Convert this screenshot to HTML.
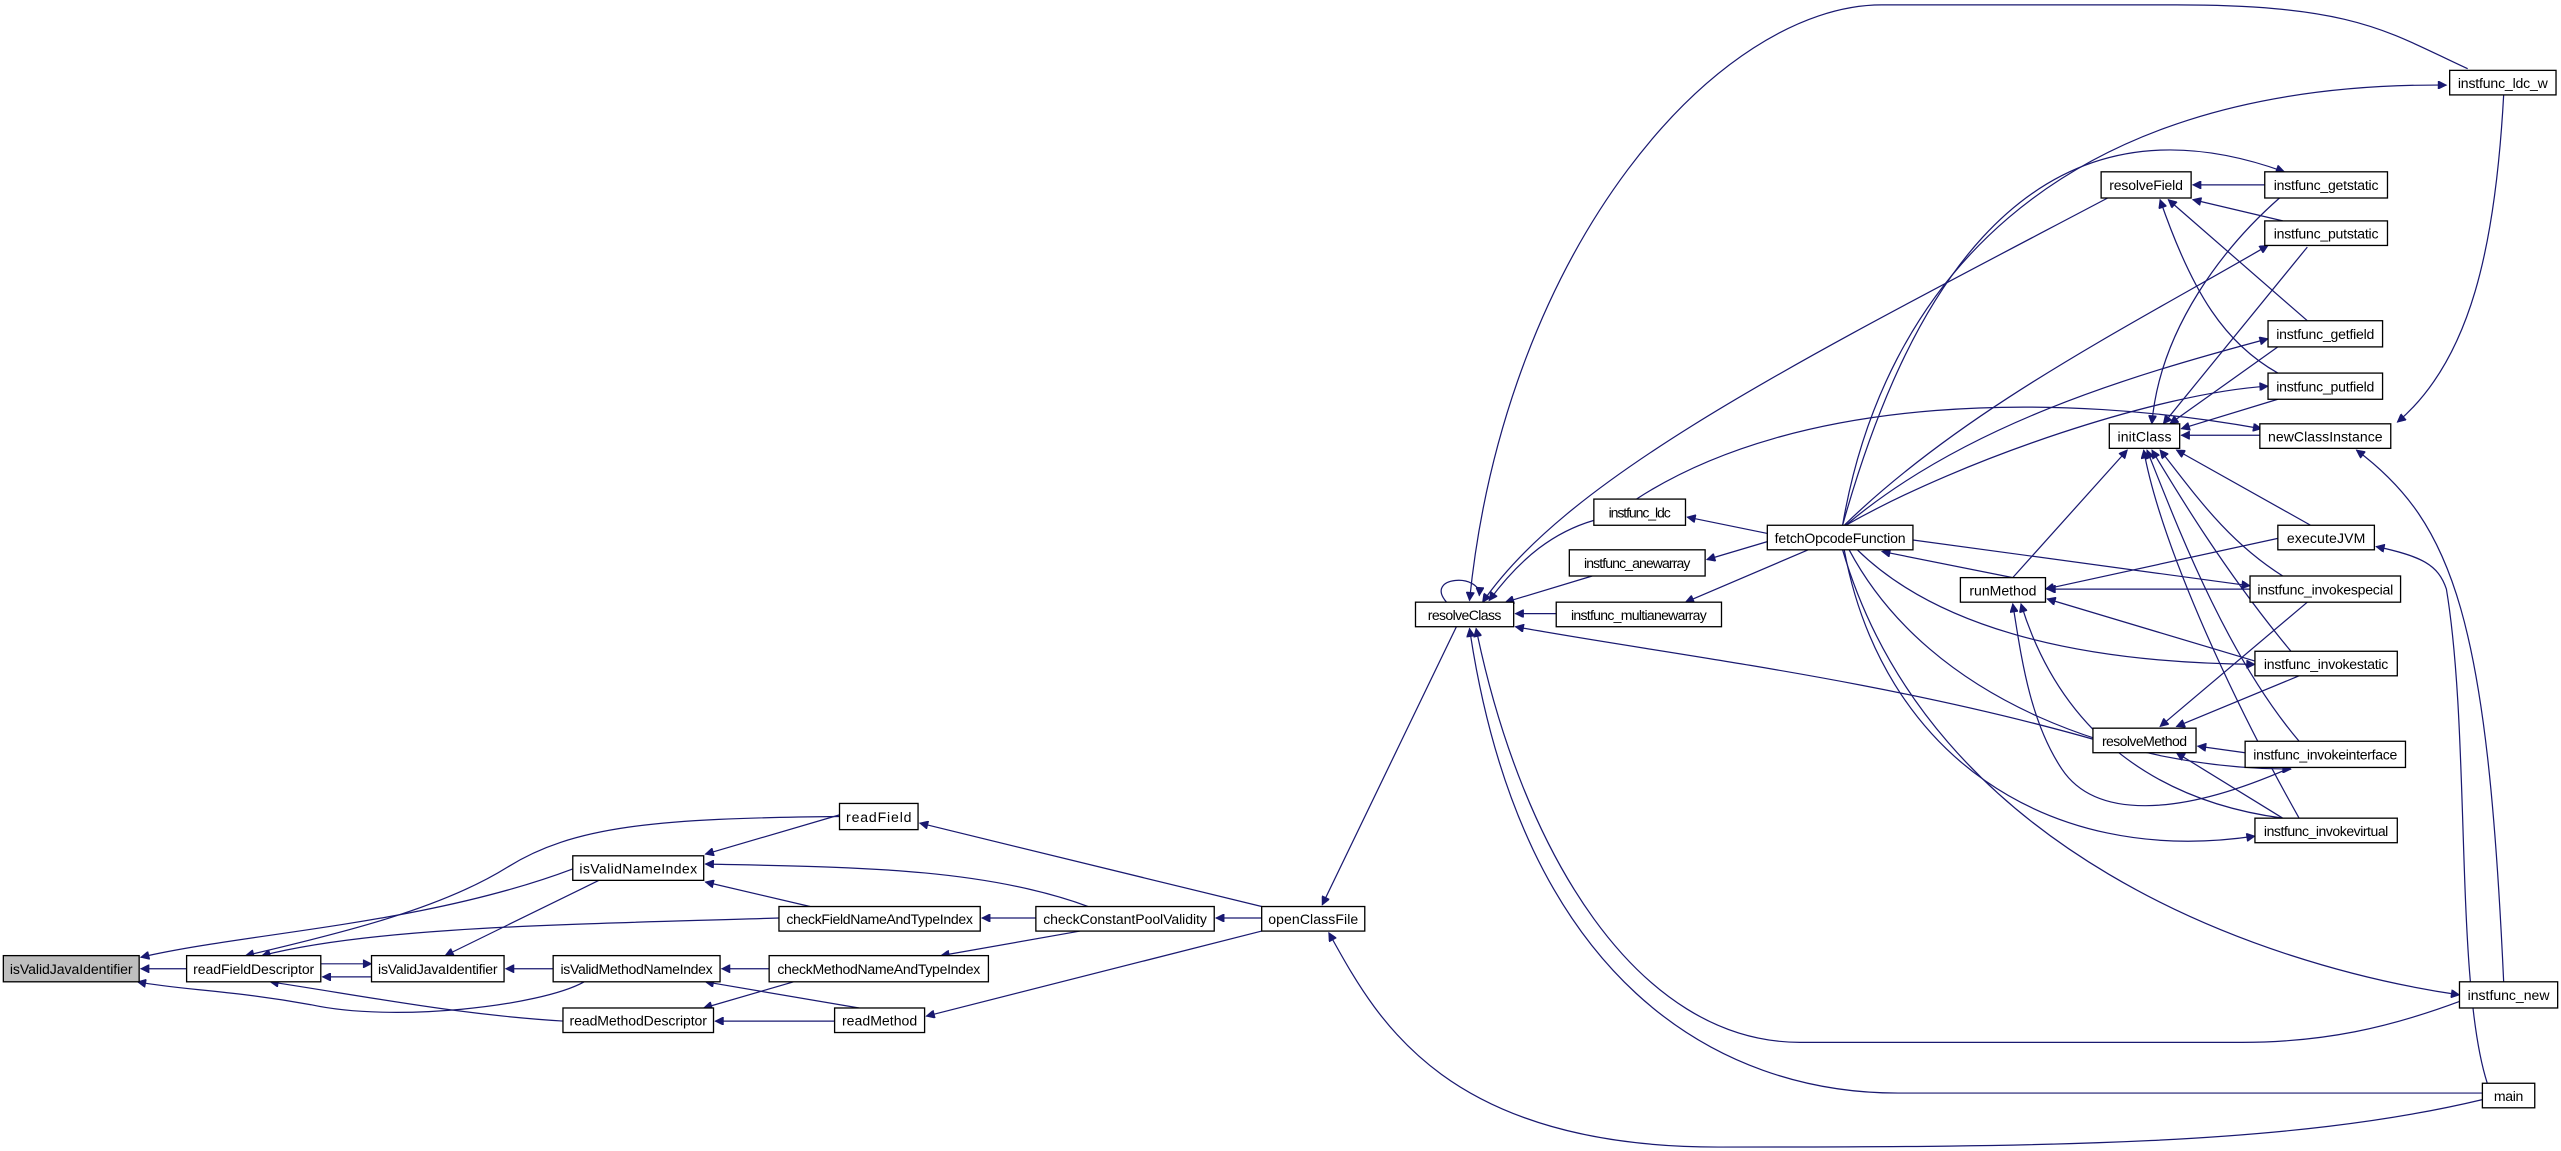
<!DOCTYPE html>
<html><head><meta charset="utf-8"><style>
html,body{margin:0;padding:0;background:#fff;}
svg{display:block;}
text{font-family:"Liberation Sans",sans-serif;font-size:8.6px;fill:#000;}
.e{fill:none;stroke:#191970;stroke-width:0.75;}
.n{fill:#fff;stroke:#000;stroke-width:0.8;}
.s{fill:none;stroke:#555;stroke-width:1;}
</style></head><body>
<svg width="2561" height="1151" viewBox="0 0 1565 703.4" xmlns="http://www.w3.org/2000/svg">
<defs><marker id="a" viewBox="0 0 10 10" refX="10" refY="5" markerWidth="7" markerHeight="5" markerUnits="userSpaceOnUse" orient="auto"><path d="M0,0 L10,5 L0,10 z" fill="#191970" stroke="#191970"/></marker></defs>
<g class="e" marker-end="url(#a)">
<!-- left cluster -->
<path d="M114,592 L86,592"/>
<path d="M350,531 C260,565 150,570 86,585"/>
<path d="M357,600 C330,615 240,625 190,614 C140,605 110,605 84,600"/>
<path d="M513,499 C400,500 350,505 310,530 C270,555 210,570 150,584"/>
<path d="M476,561 C350,565 230,566 160,584"/>
<path d="M227,597 L197,597"/>
<path d="M196,589 L227,589"/>
<path d="M344,624 C280,620 230,610 165,600"/>
<path d="M366,538 L272,584"/>
<path d="M338,592 L309,592"/>
<path d="M513,498 L431,522"/>
<path d="M495,554 L431,539"/>
<path d="M665,554 C600,530 520,530 431,528"/>
<path d="M633,561 L600,561"/>
<path d="M470,592 L441,592"/>
<path d="M525,616 L431,600"/>
<path d="M485,600 L430,616"/>
<path d="M510,624 L437,624"/>
<path d="M660,569 L575,584"/>
<path d="M771,561 L743,561"/>
<path d="M771,554 L562,503"/>
<path d="M771,569 L566,621"/>
<path d="M890,383 L808,553"/>
<path d="M1517,672 C1400,700 1250,701 1050,701 C880,701 840,620 812,570"/>
<!-- resolveClass callers -->
<path d="M884,368 C870,352 905,350 904,364"/>
<path d="M974,318 C950,325 930,340 910,367"/>
<path d="M973,352 L920,368"/>
<path d="M951,375 L926,375"/>
<path d="M1508,42 C1460,20 1440,3 1330,3 L1150,3 C1050,3 920,150 898,367"/>
<path d="M1288,121 C1100,220 960,290 906,368"/>
<path d="M1280,452 C1150,415 1020,400 926,383"/>
<path d="M1503,612 C1460,628 1420,637 1370,637 L1100,637 C1000,637 930,520 902,384"/>
<path d="M1517,668 L1160,668 C1050,668 930,600 898,384"/>
<!-- fetch -->
<path d="M1080,326 L1031,316"/>
<path d="M1080,331 L1043,342"/>
<path d="M1105,336 L1030,368"/>
<path d="M1230,353 L1150,337"/>
<path d="M1126,321 C1150,180 1250,50 1495,52"/>
<path d="M1126,321 C1160,200 1230,45 1396,105"/>
<path d="M1127,321 C1200,250 1300,200 1386,150"/>
<path d="M1128,321 C1200,260 1300,230 1386,207"/>
<path d="M1128,321 C1200,280 1320,240 1386,236"/>
<path d="M1169,330 L1375,358"/>
<path d="M1135,336 C1180,380 1260,405 1378,406"/>
<path d="M1130,336 C1180,430 1300,470 1400,470"/>
<path d="M1127,336 C1150,460 1250,530 1378,511"/>
<path d="M1126,336 C1180,520 1380,590 1503,608"/>
<path d="M1000,305 C1100,240 1260,240 1382,262"/>
<!-- runMethod -->
<path d="M1392,329 L1250,360"/>
<path d="M1375,360 L1251,360"/>
<path d="M1378,404 L1251,366"/>
<path d="M1400,469 C1330,500 1280,500 1260,470 C1240,440 1235,400 1230,369"/>
<path d="M1395,500 C1320,490 1260,450 1235,369"/>
<!-- initClass -->
<path d="M1230,353 L1300,275"/>
<path d="M1381,266 L1333,266"/>
<path d="M1393,121 C1360,150 1320,200 1315,259"/>
<path d="M1410,151 L1322,259"/>
<path d="M1392,212 L1326,259"/>
<path d="M1392,244 L1333,262"/>
<path d="M1412,321 L1330,275"/>
<path d="M1395,352 C1360,330 1340,300 1320,275"/>
<path d="M1400,398 C1360,350 1330,300 1315,275"/>
<path d="M1405,453 C1360,400 1330,320 1312,275"/>
<path d="M1405,500 C1360,420 1320,330 1310,275"/>
<!-- resolveField -->
<path d="M1384,113 L1340,113"/>
<path d="M1395,135 L1340,122"/>
<path d="M1410,196 L1325,122"/>
<path d="M1392,228 C1360,210 1340,180 1320,122"/>
<!-- newClassInstance -->
<path d="M1530,58 C1525,150 1510,220 1465,258"/>
<path d="M1530,600 C1520,380 1500,320 1440,275"/>
<path d="M1520,662 C1500,600 1510,450 1495,360 C1490,345 1480,340 1452,334"/>
<!-- resolveMethod -->
<path d="M1410,368 L1320,444"/>
<path d="M1405,413 L1330,444"/>
<path d="M1372,460 L1343,456"/>
<path d="M1395,500 L1330,460"/>
</g>
<g>
<rect class="n" x="2" y="584" width="83" height="16" fill="#bfbfbf" style="fill:#bfbfbf"/><text x="43.5" y="595.2" text-anchor="middle" textLength="75">isValidJavaIdentifier</text>
<rect class="n" x="114" y="584" width="82" height="16"/><text x="155" y="595.2" text-anchor="middle" textLength="74">readFieldDescriptor</text>
<rect class="n" x="227" y="584" width="81" height="16"/><text x="267.5" y="595.2" text-anchor="middle" textLength="73">isValidJavaIdentifier</text>
<rect class="n" x="338" y="584" width="102" height="16"/><text x="389" y="595.2" text-anchor="middle" textLength="93">isValidMethodNameIndex</text>
<rect class="n" x="470" y="584" width="134" height="16"/><text x="537" y="595.2" text-anchor="middle" textLength="124">checkMethodNameAndTypeIndex</text>
<rect class="n" x="350" y="523" width="80" height="15"/><text x="390" y="533.8" text-anchor="middle" textLength="72">isValidNameIndex</text>
<rect class="n" x="513" y="491" width="48" height="16"/><text x="537" y="502.2" text-anchor="middle" textLength="40">readField</text>
<rect class="n" x="476" y="554" width="123" height="15"/><text x="537.5" y="564.8" text-anchor="middle" textLength="114">checkFieldNameAndTypeIndex</text>
<rect class="n" x="633" y="554" width="109" height="15"/><text x="687.5" y="564.8" text-anchor="middle" textLength="100">checkConstantPoolValidity</text>
<rect class="n" x="771" y="554" width="63" height="15"/><text x="802.5" y="564.8" text-anchor="middle" textLength="55">openClassFile</text>
<rect class="n" x="344" y="616" width="92" height="15"/><text x="390" y="626.8" text-anchor="middle" textLength="84">readMethodDescriptor</text>
<rect class="n" x="510" y="616" width="55" height="15"/><text x="537.5" y="626.8" text-anchor="middle" textLength="46">readMethod</text>
<rect class="n" x="865" y="368" width="60" height="15"/><text x="895" y="378.8" text-anchor="middle" textLength="45">resolveClass</text>
<rect class="n" x="974" y="305" width="56" height="16"/><text x="1002" y="316.2" text-anchor="middle" textLength="38">instfunc_ldc</text>
<rect class="n" x="959" y="336" width="83" height="16"/><text x="1000.5" y="347.2" text-anchor="middle" textLength="65">instfunc_anewarray</text>
<rect class="n" x="951" y="368" width="101" height="15"/><text x="1001.5" y="378.8" text-anchor="middle" textLength="83">instfunc_multianewarray</text>
<rect class="n" x="1080" y="321" width="89" height="15"/><text x="1124.5" y="331.8" text-anchor="middle" textLength="80">fetchOpcodeFunction</text>
<rect class="n" x="1284" y="105" width="55" height="16"/><text x="1311.5" y="116.2" text-anchor="middle" textLength="45">resolveField</text>
<rect class="n" x="1384" y="105" width="75" height="16"/><text x="1421.5" y="116.2" text-anchor="middle" textLength="64">instfunc_getstatic</text>
<rect class="n" x="1384" y="135" width="75" height="15"/><text x="1421.5" y="145.8" text-anchor="middle" textLength="64">instfunc_putstatic</text>
<rect class="n" x="1386" y="196" width="70" height="16"/><text x="1421" y="207.2" text-anchor="middle" textLength="60">instfunc_getfield</text>
<rect class="n" x="1386" y="228" width="70" height="16"/><text x="1421" y="239.2" text-anchor="middle" textLength="60">instfunc_putfield</text>
<rect class="n" x="1289" y="259" width="43" height="15"/><text x="1310.5" y="269.8" text-anchor="middle" textLength="33">initClass</text>
<rect class="n" x="1381" y="259" width="80" height="15"/><text x="1421" y="269.8" text-anchor="middle" textLength="70">newClassInstance</text>
<rect class="n" x="1497" y="43" width="65" height="15"/><text x="1529.5" y="53.8" text-anchor="middle" textLength="55">instfunc_ldc_w</text>
<rect class="n" x="1198" y="353" width="52" height="15"/><text x="1224" y="363.8" text-anchor="middle" textLength="41">runMethod</text>
<rect class="n" x="1392" y="321" width="59" height="15"/><text x="1421.5" y="331.8" text-anchor="middle" textLength="48">executeJVM</text>
<rect class="n" x="1375" y="352" width="92" height="16"/><text x="1421" y="363.2" text-anchor="middle" textLength="83">instfunc_invokespecial</text>
<rect class="n" x="1378" y="398" width="87" height="15"/><text x="1421.5" y="408.8" text-anchor="middle" textLength="76">instfunc_invokestatic</text>
<rect class="n" x="1279" y="445" width="63" height="15"/><text x="1310.5" y="455.8" text-anchor="middle" textLength="52">resolveMethod</text>
<rect class="n" x="1372" y="453" width="98" height="16"/><text x="1421" y="464.2" text-anchor="middle" textLength="88">instfunc_invokeinterface</text>
<rect class="n" x="1378" y="500" width="87" height="15"/><text x="1421.5" y="510.8" text-anchor="middle" textLength="76">instfunc_invokevirtual</text>
<rect class="n" x="1503" y="600" width="60" height="16"/><text x="1533" y="611.2" text-anchor="middle" textLength="50">instfunc_new</text>
<rect class="n" x="1517" y="662" width="32" height="15"/><text x="1533" y="672.8" text-anchor="middle" textLength="18">main</text>
</g>
</svg>
</body></html>
